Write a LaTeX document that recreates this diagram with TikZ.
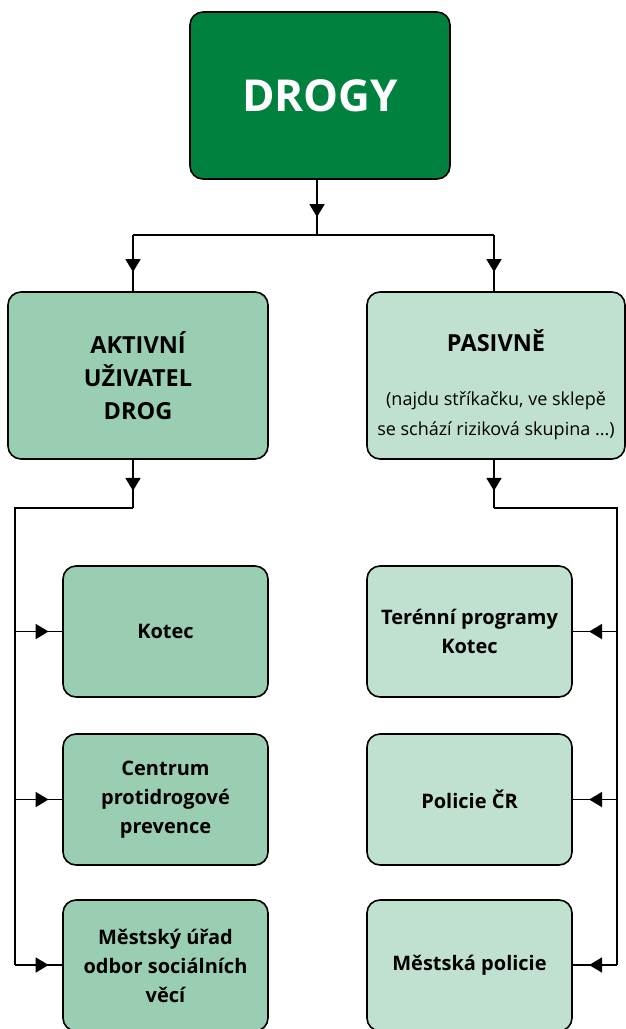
\documentclass[tikz,border=0pt]{standalone}
\usepackage{fontspec}
\setmainfont{Open Sans}
\usetikzlibrary{arrows.meta,decorations.markings}
\definecolor{darkgreen}{HTML}{00823E}
\definecolor{midgreen}{HTML}{9ACEB3}
\definecolor{lightgreen}{HTML}{C0E1D0}
\newcommand{\subfnt}{\mdseries\fontsize{18}{25}\selectfont}
\tikzset{
  box/.style={draw=black, line width=1.6pt, rounded corners=13pt, anchor=north west,
    inner sep=0pt, outer sep=0pt, align=center, font=\bfseries\fontsize{20}{29}\selectfont},
  line/.style={draw=black, line width=1.8pt},
  midarr/.style={postaction={decorate}, decoration={markings,
    mark=at position #1 with {\arrow{Triangle[width=15pt,length=13pt]}}}}
}
\begin{document}
\begin{tikzpicture}[x=1pt,y=-1pt]
\useasboundingbox (0,0) rectangle (626,1029);
% boxes
\node[box, fill=darkgreen, text=white, minimum width=260pt, minimum height=167pt,
  font=\bfseries\fontsize{44}{50}\selectfont] (drogy) at (190,12) {DROGY};
\node[box, fill=midgreen, minimum width=260pt, minimum height=167pt,
  font=\bfseries\fontsize{23.5}{33}\selectfont] (ak) at (8,292) {AKTIVNÍ\\UŽIVATEL\\DROG};
\node[box, fill=lightgreen, minimum width=258pt, minimum height=167pt,
  font=\bfseries\fontsize{23.5}{30}\selectfont] (pa) at (367,292)
  {\rule{0pt}{40pt}PASIVNĚ\\[24pt]\subfnt (najdu stříkačku, ve sklepě\\\subfnt se schází riziková skupina ...)};
\node[box, fill=midgreen, minimum width=205pt, minimum height=131pt] (l1) at (63,566) {Kotec};
\node[box, fill=midgreen, minimum width=205pt, minimum height=131pt] (l2) at (63,734) {Centrum\\protidrogové\\prevence};
\node[box, fill=midgreen, minimum width=205pt, minimum height=131pt] (l3) at (63,900) {Městský úřad\\odbor sociálních\\věcí};
\node[box, fill=lightgreen, minimum width=205pt, minimum height=131pt] (r1) at (367,566) {Terénní programy\\Kotec};
\node[box, fill=lightgreen, minimum width=205pt, minimum height=131pt] (r2) at (367,734) {Policie ČR};
\node[box, fill=lightgreen, minimum width=205pt, minimum height=131pt] (r3) at (367,900) {Městská policie};
% junction coordinates
\coordinate (j0) at (317,235);
\coordinate (jl) at (133,235);
\coordinate (jr) at (494,235);
\coordinate (al) at (133,459);
\coordinate (bl) at (133,508);
\coordinate (cl) at (15,508);
\coordinate (dl) at (15,965);
\coordinate (ar) at (494,459);
\coordinate (br) at (494,508);
\coordinate (cr) at (617,508);
\coordinate (dr) at (617,965);
% top connectors
\draw[line, midarr=0.68] (j0 |- drogy.south) -- (j0);
\draw[line] (jl) -- (jr);
\draw[line, midarr=0.65] (jl) -- (al |- ak.north);
\draw[line, midarr=0.65] (jr) -- (ar |- pa.north);
% left branch
\draw[line, midarr=0.65] (al) -- (bl);
\draw[line] (bl) -- (cl) -- (dl);
\draw[line, midarr=0.7] (cl |- l1.west) -- (l1.west);
\draw[line, midarr=0.7] (cl |- l2.west) -- (l2.west);
\draw[line, midarr=0.7] (dl) -- (dl -| l3.west);
% right branch
\draw[line, midarr=0.65] (ar) -- (br);
\draw[line] (br) -- (cr) -- (dr);
\draw[line, midarr=0.62] (cr |- r1.east) -- (r1.east);
\draw[line, midarr=0.62] (cr |- r2.east) -- (r2.east);
\draw[line, midarr=0.62] (dr) -- (dr -| r3.east);
\end{tikzpicture}
\end{document}
